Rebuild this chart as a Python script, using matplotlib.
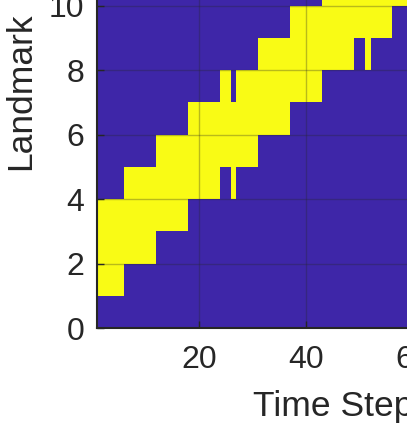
import numpy as np
import matplotlib
matplotlib.use("Agg")
from matplotlib import pyplot as plt
from matplotlib.colors import ListedColormap

# time steps each landmark is seen (start, end) per landmark 1..10
landmarks = [1, 2, 3, 4, 5, 6, 7, 8, 9, 10]
seen = [
    [(1, 6)],
    [(1, 12)],
    [(1, 18)],
    [(6, 24), (26, 27)],
    [(12, 31)],
    [(18, 37)],
    [(24, 26), (27, 43)],
    [(31, 49), (51, 52)],
    [(37, 56)],
    [(43, 62)],
]
n_steps = 88
x_ticks = [20, 40, 60]
y_ticks = [0, 2, 4, 6, 8, 10, 12, 14]

blue = "#3E26A8"
yellow = "#F9FB15"

grid = np.zeros((len(landmarks), n_steps))
for i, segs in enumerate(seen):
    for a, b in segs:
        grid[i, a - 1:b - 1] = 1

plt.rcParams['font.family'] = ['Liberation Sans', 'DejaVu Sans']

fig = plt.figure(figsize=(4.07, 4.23), dpi=100)
ax = fig.add_axes([96.8 / 407, 95 / 423, 472.3 / 407, 473.8 / 423])

xe = np.arange(1, n_steps + 2)
ye = np.arange(1, len(landmarks) + 2)
ax.pcolormesh(xe, ye, grid, cmap=ListedColormap([blue, yellow]), vmin=0, vmax=1)
ax.set_facecolor(blue)

ax.set_xlim(1, 89)
ax.set_ylim(0, 14.7)
ax.set_xticks(x_ticks)
ax.set_yticks(y_ticks)
ax.grid(True, color="#262626", alpha=0.3, lw=1)
ax.set_axisbelow(False)
ax.tick_params(direction="in", length=5, width=1, colors="#262626", labelsize=23)
ax.tick_params(axis="x", pad=12)
ax.tick_params(axis="y", pad=9)
for s in ax.spines.values():
    s.set_color("#262626")
    s.set_linewidth(1.5)

ax.set_xlabel("Time Step", fontsize=25.5, color="#262626", labelpad=11)
ax.set_ylabel("Landmark", fontsize=25.5, color="#262626", labelpad=8)

fig.savefig("out.png", dpi=100)
